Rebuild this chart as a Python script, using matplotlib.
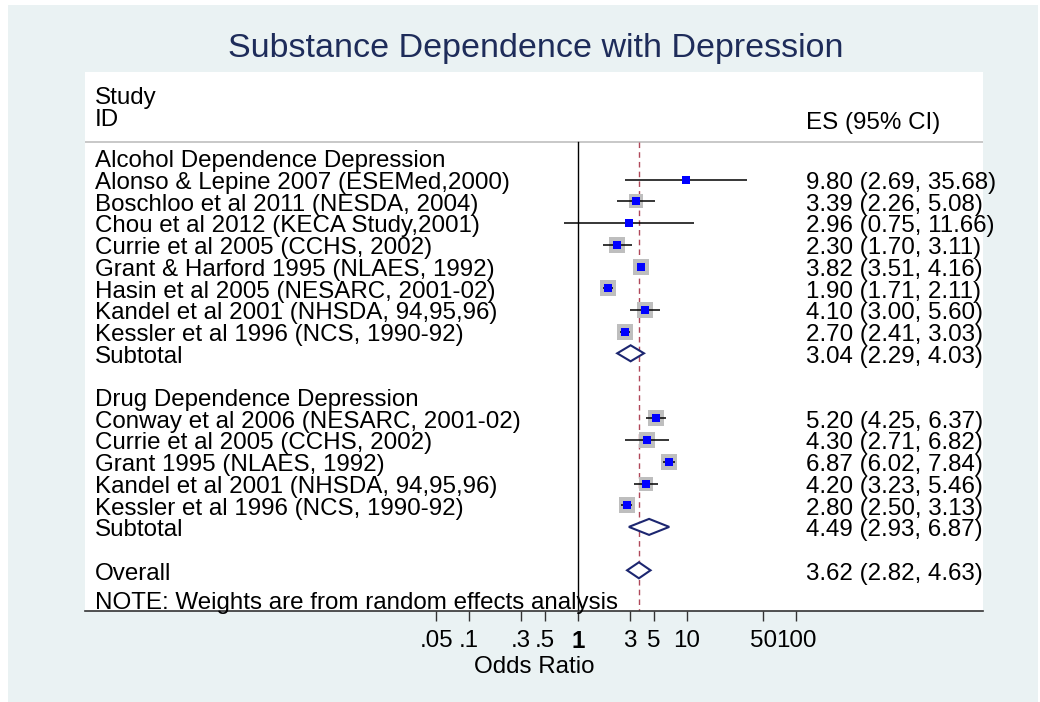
import numpy as np
import matplotlib
matplotlib.use('Agg')
import matplotlib.pyplot as plt
from matplotlib.patches import Rectangle, Polygon
from matplotlib.transforms import blended_transform_factory

plt.rcParams['font.family'] = ['Liberation Sans', 'DejaVu Sans']

title = 'Substance Dependence with Depression'

# Alcohol dependence group
alc_header = 'Alcohol Dependence Depression'
alc_studies = ['Alonso & Lepine 2007 (ESEMed,2000)',
               'Boschloo et al 2011 (NESDA, 2004)',
               'Chou et al 2012 (KECA Study,2001)',
               'Currie et al 2005 (CCHS, 2002)',
               'Grant & Harford 1995 (NLAES, 1992)',
               'Hasin et al 2005 (NESARC, 2001-02)',
               'Kandel et al 2001 (NHSDA, 94,95,96)',
               'Kessler et al 1996 (NCS, 1990-92)']
alc_es = [9.80, 3.39, 2.96, 2.30, 3.82, 1.90, 4.10, 2.70]
alc_lo = [2.69, 2.26, 0.75, 1.70, 3.51, 1.71, 3.00, 2.41]
alc_hi = [35.68, 5.08, 11.66, 3.11, 4.16, 2.11, 5.60, 3.03]
alc_wt = [2.0, 8.5, 1.5, 9.5, 10.0, 10.0, 10.0, 10.5]   # approx. % weights
alc_sub = (3.04, 2.29, 4.03)

# Drug dependence group
drug_header = 'Drug Dependence Depression'
drug_studies = ['Conway et al 2006 (NESARC, 2001-02)',
                'Currie et al 2005 (CCHS, 2002)',
                'Grant 1995 (NLAES, 1992)',
                'Kandel et al 2001 (NHSDA, 94,95,96)',
                'Kessler et al 1996 (NCS, 1990-92)']
drug_es = [5.20, 4.30, 6.87, 4.20, 2.80]
drug_lo = [4.25, 2.71, 6.02, 3.23, 2.50]
drug_hi = [6.37, 6.82, 7.84, 5.46, 3.13]
drug_wt = [11.0, 10.0, 9.7, 9.0, 9.7]
drug_sub = (4.49, 2.93, 6.87)

overall = (3.62, 2.82, 4.63)

xticks = [0.05, 0.1, 0.3, 0.5, 1, 3, 5, 10, 50, 100]
xticklabels = ['.05', '.1', '.3', '.5', '1', '3', '5', '10', '50', '100']

W, H = 1040, 702
FS = 17.4
BG = '#eaf2f3'
NAVY = '#1c2670'

fig = plt.figure(figsize=(W / 100, H / 100), dpi=100, facecolor='white')
fig.patches.append(Rectangle((8 / W, 0), (1038 - 8) / W, (H - 5) / H,
                             transform=fig.transFigure, facecolor=BG,
                             edgecolor='none', zorder=-10))

# plot region in pixels
x0, x1, ytop, ybot = 85, 983, 72, 611
ax = fig.add_axes([x0 / W, (H - ybot) / H, (x1 - x0) / W, (ybot - ytop) / H])
ax.set_facecolor('white')

# rows: 21.7 px apart, row 0 at 158 px
row_px, row0 = 21.7, 158
ax.set_ylim((ybot - row0) / row_px, (ytop - row0) / row_px)
px_per_dec = 109.0
ax.set_xscale('log')
ax.set_xlim(10 ** ((x0 - 578) / px_per_dec), 10 ** ((x1 - 578) / px_per_dec))


def r(px):
    return (px - row0) / row_px


tx_left = (95 - x0) / (x1 - x0)
tx_right = (806 - x0) / (x1 - x0)
bt = blended_transform_factory(ax.transAxes, ax.transData)


def label(row, left, right=None):
    ax.text(tx_left, row + 0.43, left, transform=bt, fontsize=FS,
            va='baseline', ha='left')
    if right is not None:
        ax.text(tx_right, row + 0.43, right, transform=bt, fontsize=FS,
                va='baseline', ha='left')


def fmt(es, lo, hi):
    return f'{es:.2f} ({lo:.2f}, {hi:.2f})'


def study(row, es, lo, hi, wt):
    side = 4.9 * np.sqrt(wt) * 0.72
    ax.scatter([es], [row], marker='s', s=side ** 2, color='#bebebe',
               linewidths=0, zorder=3)
    ax.plot([lo, hi], [row, row], color='black', lw=1.1, zorder=4,
            solid_capstyle='butt')
    ax.scatter([es], [row], marker='s', s=(8.5 * 0.72) ** 2, color='#0000ff',
               linewidths=0, zorder=5)


def diamond(row, es, lo, hi):
    h = 8.0 / row_px
    ax.add_patch(Polygon([(lo, row), (es, row - h), (hi, row), (es, row + h)],
                         closed=True, facecolor='white', edgecolor=NAVY,
                         lw=1.5, zorder=5))


# headers
ax.text(tx_left, r(104), 'Study', transform=bt, fontsize=FS, va='baseline')
ax.text(tx_left, r(126), 'ID', transform=bt, fontsize=FS, va='baseline')
ax.text(tx_right, r(129), 'ES (95% CI)', transform=bt, fontsize=FS,
        va='baseline')
ax.axhline(r(142), color='#c4c4c4', lw=1.3)

row = 0
label(row, alc_header)
for name, es, lo, hi, wt in zip(alc_studies, alc_es, alc_lo, alc_hi, alc_wt):
    row += 1
    label(row, name, fmt(es, lo, hi))
    study(row, es, lo, hi, wt)
row += 1
label(row, 'Subtotal', fmt(*alc_sub))
diamond(row, *alc_sub)

row += 2
label(row, drug_header)
for name, es, lo, hi, wt in zip(drug_studies, drug_es, drug_lo, drug_hi, drug_wt):
    row += 1
    label(row, name, fmt(es, lo, hi))
    study(row, es, lo, hi, wt)
row += 1
label(row, 'Subtotal', fmt(*drug_sub))
diamond(row, *drug_sub)

row += 2
label(row, 'Overall', fmt(*overall))
diamond(row, *overall)

ax.text(tx_left, r(609), 'NOTE: Weights are from random effects analysis',
        transform=bt, fontsize=FS, va='baseline')

# null line and overall line
ylo, yhi = ax.get_ylim()
ax.plot([1, 1], [r(142), ylo], color='black', lw=1.0, zorder=2)
ax.plot([overall[0], overall[0]], [r(142), ylo], color='#b0485a', lw=1.0,
        ls=(0, (4, 3)), zorder=2)

for s in ['top', 'left', 'right']:
    ax.spines[s].set_visible(False)
ax.spines['bottom'].set_color('#333333')
ax.spines['bottom'].set_linewidth(1.2)
ax.set_yticks([])
ax.minorticks_off()
ax.set_xticks(xticks)
ax.set_xticklabels(xticklabels, fontsize=FS)
ax.xaxis.get_ticklabels()[4].set_fontweight('semibold')
ax.tick_params(axis='x', length=7, width=1.0, color='#333333', pad=7)
ax.set_xlabel('Odds Ratio', fontsize=FS, labelpad=2)

fig.text(536 / W, 1 - 48 / H, title, ha='center', va='center', fontsize=24.5,
         color='#1e2c5a')

fig.savefig('out.png', dpi=100, facecolor=fig.get_facecolor())
